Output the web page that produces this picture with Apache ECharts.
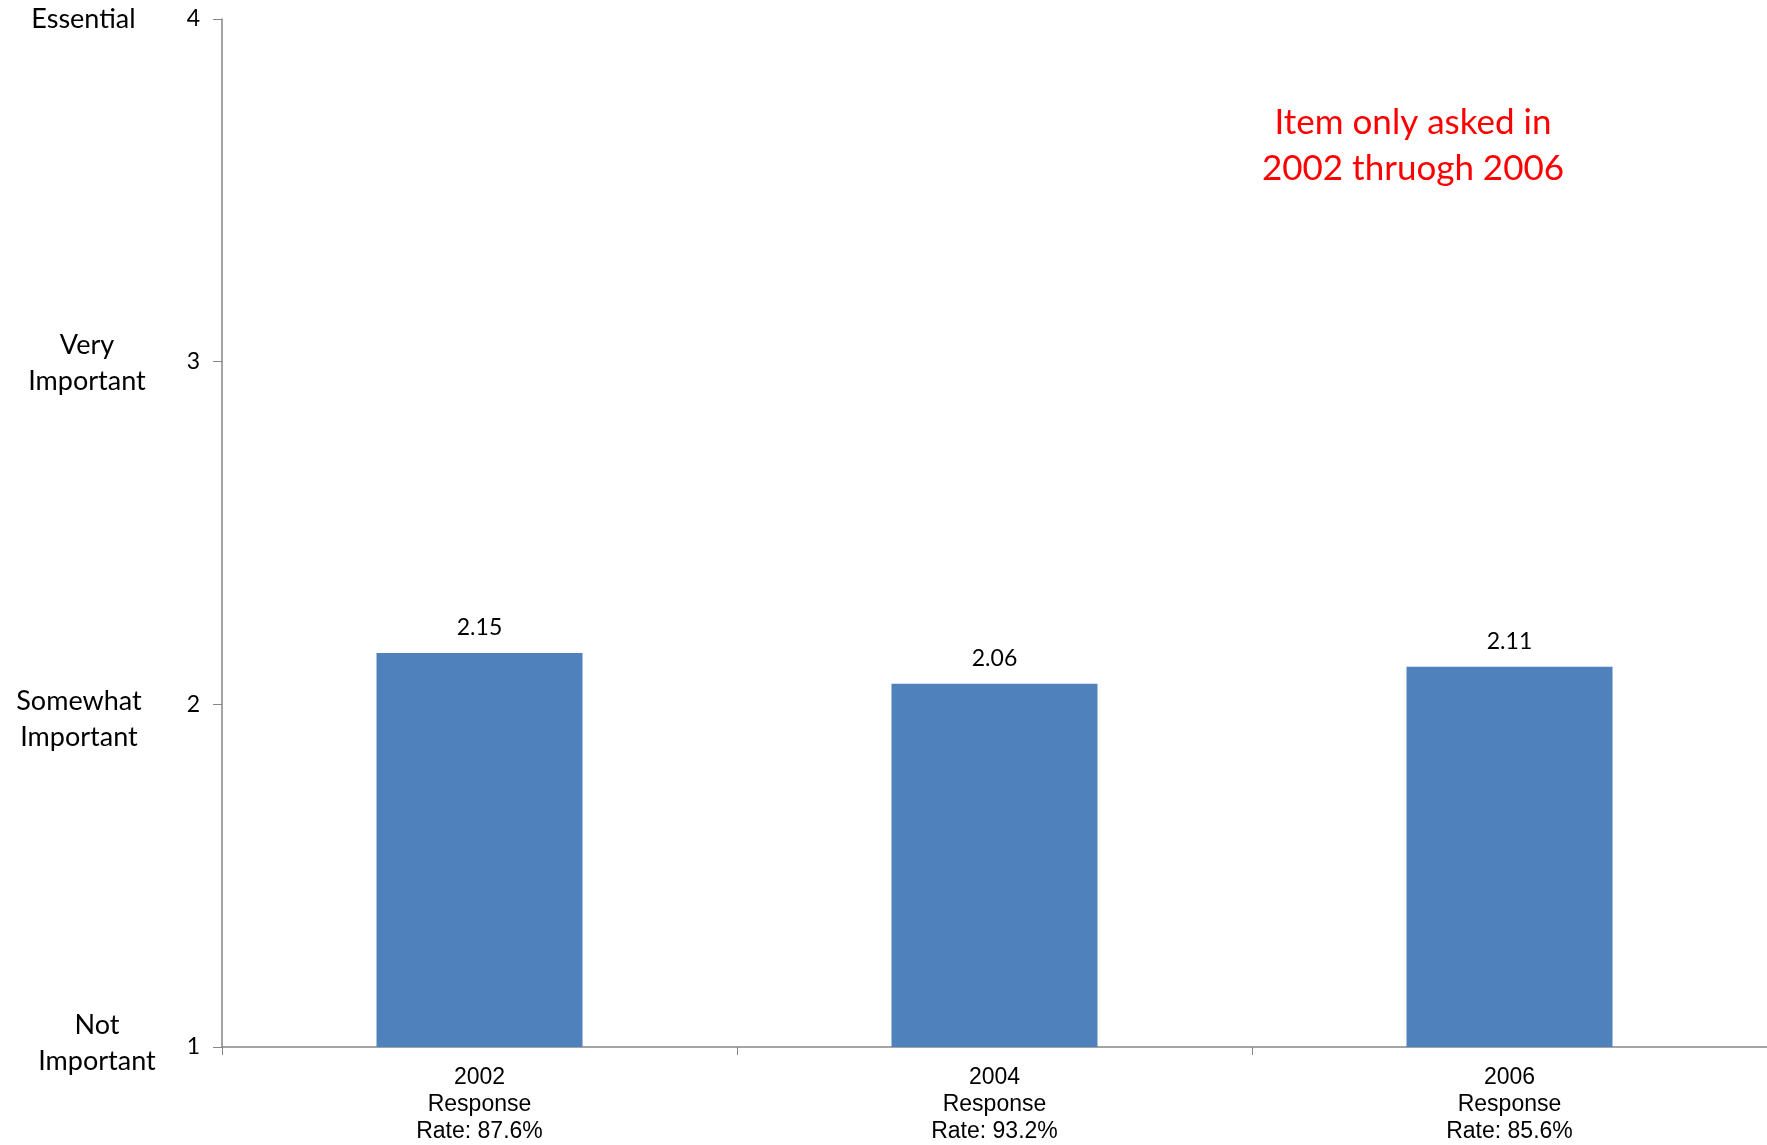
<!DOCTYPE html>
<html>
<head>
<meta charset="utf-8">
<script src="https://cdn.jsdelivr.net/npm/echarts@6/dist/echarts.min.js"></script>
<style>html,body{margin:0;padding:0;background:#fff}#c{width:1767px;height:1145px}</style>
</head>
<body>
<div id="c"></div>
<script>
const categories = ["2002\nResponse\nRate: 87.6%", "2004\nResponse\nRate: 93.2%", "2006\nResponse\nRate: 85.6%"];
const values = [2.15, 2.06, 2.11];
const yTickValues = [1, 2, 3, 4];
const yTickNames = ["Not\nImportant", "Somewhat\nImportant", "Very\nImportant", "Essential"];
const noteText = "Item only asked in\n2002 thruogh 2006";

// per-label nudges (style only)
const nameStyles = [
  {key: 'a', padding: [0, 0, 0, 20], before: 0, after: 7},
  {key: 'b', padding: [0, 16, 0, 0], before: 30, after: 0},
  {key: 'c', padding: [0, 0, 0, 0], before: 4, after: 0},
  {key: 'd', padding: [0, 7, 0, 0], before: 0, after: 0}
];
const rich = {};
nameStyles.forEach(function (s) {
  rich[s.key] = {fontFamily: 'Lato', fontSize: 27, lineHeight: 36, color: '#000', padding: s.padding, align: 'center'};
  rich[s.key + 'b'] = {fontSize: 1, lineHeight: s.before, height: s.before};
  rich[s.key + 'a'] = {fontSize: 1, lineHeight: s.after, height: s.after};
});

const chart = echarts.init(document.getElementById('c'), null, {renderer: 'canvas'});
const axisColor = '#868686';
chart.setOption({
  animation: false,
  grid: {left: 222, right: 0, top: 19, bottom: 94, containLabel: false},
  xAxis: {
    type: 'category',
    data: categories,
    axisLine: {lineStyle: {color: axisColor, width: 1.5}},
    axisTick: {show: true, length: 8, lineStyle: {color: axisColor}},
    axisLabel: {color: '#000', fontFamily: 'Liberation Sans', fontSize: 23, lineHeight: 27, margin: 17}
  },
  yAxis: [{
    type: 'value', min: 1, max: 4, interval: 1,
    splitLine: {show: false},
    axisLine: {show: true, lineStyle: {color: axisColor, width: 1.5}},
    axisTick: {show: true, length: 9, lineStyle: {color: axisColor}},
    axisLabel: {color: '#000', fontFamily: 'Lato', fontSize: 23, margin: 22}
  }, {
    type: 'value', min: 1, max: 4, interval: 1, position: 'left', offset: 0,
    splitLine: {show: false},
    axisLine: {show: false}, axisTick: {show: false},
    axisLabel: {
      color: '#000', fontFamily: 'Lato', fontSize: 27, lineHeight: 36, align: 'center', margin: 135,
      rich: rich,
      formatter: function (v) {
        const i = yTickValues.indexOf(v);
        if (i < 0) return '';
        const s = nameStyles[i];
        const lines = yTickNames[i].split('\n').map(function (t) { return '{' + s.key + '|' + t + '}'; });
        if (s.before > 0) lines.unshift('{' + s.key + 'b| }');
        if (s.after > 0) lines.push('{' + s.key + 'a| }');
        return lines.join('\n');
      }
    }
  }],
  series: [{
    type: 'bar',
    data: values,
    barCategoryGap: '60%',
    itemStyle: {color: '#4F81BD'},
    label: {show: true, position: 'top', distance: 14, color: '#000', fontFamily: 'Lato', fontSize: 23,
      formatter: function (p) { return p.value.toFixed(2); }}
  }],
  graphic: [{
    type: 'text', x: 1413, y: 100,
    style: {text: noteText, fill: '#ff0000', font: '35px Lato', textAlign: 'center', lineHeight: 46}
  }]
});
</script>
</body>
</html>
